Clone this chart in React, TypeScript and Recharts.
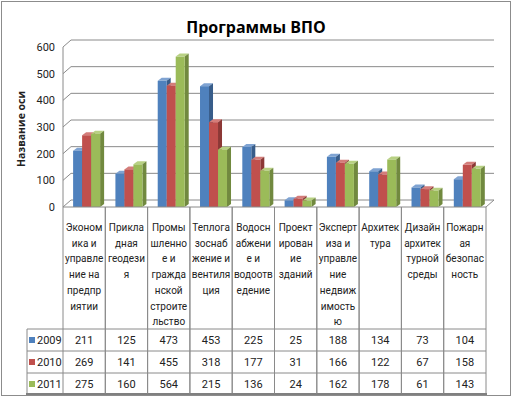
import React from "react";
import { BarChart, Bar, XAxis, YAxis, CartesianGrid } from "recharts";

// Программы ВПО – численность по годам
const categories = [
  "Экономика и управление на предприятии",
  "Прикладная геодезия",
  "Промышленное и гражданское строительство",
  "Теплогазоснабжение и вентиляция",
  "Водоснабжение и водоотведение",
  "Проектирование зданий",
  "Экспертиза и управление недвижимостью",
  "Архитектура",
  "Дизайн архитектурной среды",
  "Пожарная безопасность",
];

// header cells are wrapped the same way as in the original table
const categoryLines = [
  ["Эконом", "ика и", "управле", "ние на", "предпр", "иятии"],
  ["Прикла", "дная", "геодези", "я"],
  ["Промы", "шленно", "е и", "гражда", "нской", "строите", "льство"],
  ["Теплога", "зоснаб", "жение и", "вентиля", "ция"],
  ["Водосн", "абжени", "е и", "водоотв", "едение"],
  ["Проект", "ирован", "ие", "зданий"],
  ["Эксперт", "иза и", "управле", "ние", "недвиж", "имость", "ю"],
  ["Архитек", "тура"],
  ["Дизайн", "архитек", "турной", "среды"],
  ["Пожарн", "ая", "безопас", "ность"],
];

const years = ["2009", "2010", "2011"];
const values2009 = [211, 125, 473, 453, 225, 25, 188, 134, 73, 104];
const values2010 = [269, 141, 455, 318, 177, 31, 166, 122, 67, 158];
const values2011 = [275, 160, 564, 215, 136, 24, 162, 178, 61, 143];
const yTicks = [0, 100, 200, 300, 400, 500, 600];

const seriesValues = [values2009, values2010, values2011];

const data = categories.map((name, i) => ({
  name,
  y2009: values2009[i],
  y2010: values2010[i],
  y2011: values2011[i],
}));

const PALETTE = [
  { front: "#4F81BD", side: "#385D8A", top: "#7FA3D2" },
  { front: "#C0504D", side: "#8C3836", top: "#D47D7A" },
  { front: "#9BBB59", side: "#71893F", top: "#B8D183" },
];

const FONT = "Roboto, 'DejaVu Sans', sans-serif";
const TITLE_FONT = "'Open Sans', 'DejaVu Sans', sans-serif";
const TEXT = "#222";
const LINE = "#8a8a8a";

// layout
const W = 512;
const H = 398;
const PLOT_LEFT = 63;
const PLOT_RIGHT = 486;
const PLOT_TOP = 47;
const PLOT_BOTTOM = 207;
const BAND = (PLOT_RIGHT - PLOT_LEFT) / categories.length;
const DEPTH_X = 8;
const DEPTH_Y = 7;
const ROW_TOPS = [329, 351, 373];
const TABLE_BOTTOM = 394;
const LEGEND_LEFT = 27;

const make3DBar = (c: { front: string; side: string; top: string }) => (props: any) => {
  const { width, height } = props;
  if (!height || height <= 0) return <g />;
  const x = props.x + 2.5;
  const y = props.y;
  const dx = 4;
  const dy = 3;
  return (
    <g>
      <polygon
        points={`${x},${y} ${x + dx},${y - dy} ${x + width + dx},${y - dy} ${x + width},${y}`}
        fill={c.top}
      />
      <polygon
        points={`${x + width},${y} ${x + width + dx},${y - dy} ${x + width + dx},${y + height - dy} ${x + width},${y + height}`}
        fill={c.side}
      />
      <rect x={x} y={y} width={width} height={height} fill={c.front} />
    </g>
  );
};

const gridLine = (p: any) => {
  const { x1, x2, y1 } = p;
  const isFloor = Math.abs(y1 - PLOT_BOTTOM) < 1;
  return (
    <g key={`g-${y1}`}>
      <line x1={x1} y1={y1} x2={x1 + DEPTH_X} y2={y1 - DEPTH_Y} stroke={LINE} />
      <line x1={x1 + DEPTH_X} y1={y1 - DEPTH_Y} x2={x2 + DEPTH_X} y2={y1 - DEPTH_Y} stroke={LINE} />
      {isFloor && (
        <line x1={x2} y1={y1} x2={x2 + DEPTH_X} y2={y1 - DEPTH_Y} stroke={LINE} />
      )}
    </g>
  );
};

const YTick = (props: any) => {
  const { y, payload } = props;
  return (
    <text x={55} y={y + 4} textAnchor="end" fontSize={11} fontFamily={FONT} fill={TEXT}>
      {payload.value}
    </text>
  );
};

const TableTick = (props: any) => {
  const { x, payload } = props;
  const i = payload.index ?? props.index;
  const left = x - BAND / 2;
  const right = x + BAND / 2;
  const lines = categoryLines[i] || [];
  return (
    <g fontFamily={FONT} fontSize={10} fill={TEXT}>
      <line x1={left} y1={PLOT_BOTTOM} x2={left} y2={TABLE_BOTTOM} stroke={LINE} />
      <line x1={right} y1={PLOT_BOTTOM} x2={right} y2={TABLE_BOTTOM} stroke={LINE} />
      {ROW_TOPS.map((t) => (
        <line key={t} x1={left} y1={t} x2={right} y2={t} stroke={LINE} />
      ))}
      <line x1={left} y1={TABLE_BOTTOM} x2={right + 1} y2={TABLE_BOTTOM} stroke="#808080" strokeWidth={2} />
      {lines.map((s, k) => (
        <text key={k} x={x} y={231 + k * 15.7} textAnchor="middle">
          {s}
        </text>
      ))}
      {seriesValues.map((vals, r) => (
        <text key={`v${r}`} x={x} y={ROW_TOPS[r] + 15} textAnchor="middle" fontSize={11}>
          {vals[i]}
        </text>
      ))}
      {i === 0 && (
        <g>
          <line x1={LEGEND_LEFT} y1={ROW_TOPS[0]} x2={LEGEND_LEFT} y2={TABLE_BOTTOM} stroke={LINE} />
          {ROW_TOPS.map((t) => (
            <line key={`l${t}`} x1={LEGEND_LEFT} y1={t} x2={left} y2={t} stroke={LINE} />
          ))}
          <line x1={LEGEND_LEFT - 1} y1={TABLE_BOTTOM} x2={left} y2={TABLE_BOTTOM} stroke="#808080" strokeWidth={2} />
          {years.map((yr, r) => (
            <g key={yr}>
              <rect x={29} y={ROW_TOPS[r] + 8} width={6} height={6} fill={PALETTE[r].front} />
              <text x={37} y={ROW_TOPS[r] + 15} fontSize={11}>
                {yr}
              </text>
            </g>
          ))}
        </g>
      )}
    </g>
  );
};

const AxisTitle = (props: any) => {
  const vb = props.viewBox || { y: PLOT_TOP, height: PLOT_BOTTOM - PLOT_TOP };
  const cy = vb.y + vb.height / 2 + 2;
  return (
    <text
      x={25}
      y={cy}
      transform={`rotate(-90, 25, ${cy})`}
      textAnchor="middle"
      fontSize={10.5}
      fontWeight="bold"
      fontFamily={TITLE_FONT}
      fill={TEXT}
    >
      Название оси
    </text>
  );
};

export default function App() {
  return (
    <div style={{ position: "relative", width: W, height: H, background: "#fff" }}>
      <style>{"body{margin:0}"}</style>
      <div
        style={{
          position: "absolute",
          left: 1,
          top: 1,
          width: 508,
          height: 393,
          border: "1px solid #8c8c8c",
        }}
      />
      <div
        style={{
          position: "absolute",
          left: 0,
          top: 15,
          width: W,
          textAlign: "center",
          fontFamily: TITLE_FONT,
          fontWeight: "bold",
          fontSize: 16,
          lineHeight: "24px",
          color: "#000",
        }}
      >
        Программы ВПО
      </div>
      <div style={{ position: "absolute", left: 0, top: 0 }}>
        <BarChart
          width={W}
          height={H}
          data={data}
          margin={{ top: PLOT_TOP, right: W - PLOT_RIGHT, bottom: 0, left: 0 }}
          barCategoryGap="18%"
          barGap={0}
        >
          <CartesianGrid vertical={false} horizontal={gridLine} />
          <XAxis
            dataKey="name"
            interval={0}
            height={H - PLOT_BOTTOM}
            tickLine={false}
            axisLine={{ stroke: LINE }}
            tick={(p: any) => <TableTick {...p} />}
          />
          <YAxis
            width={PLOT_LEFT}
            domain={[0, 600]}
            ticks={yTicks}
            tickLine={false}
            axisLine={{ stroke: LINE }}
            tick={(p: any) => <YTick {...p} />}
            label={(p: any) => <AxisTitle {...p} />}
          />
          <Bar dataKey="y2009" name={years[0]} isAnimationActive={false} shape={make3DBar(PALETTE[0])} />
          <Bar dataKey="y2010" name={years[1]} isAnimationActive={false} shape={make3DBar(PALETTE[1])} />
          <Bar dataKey="y2011" name={years[2]} isAnimationActive={false} shape={make3DBar(PALETTE[2])} />
        </BarChart>
      </div>
    </div>
  );
}
